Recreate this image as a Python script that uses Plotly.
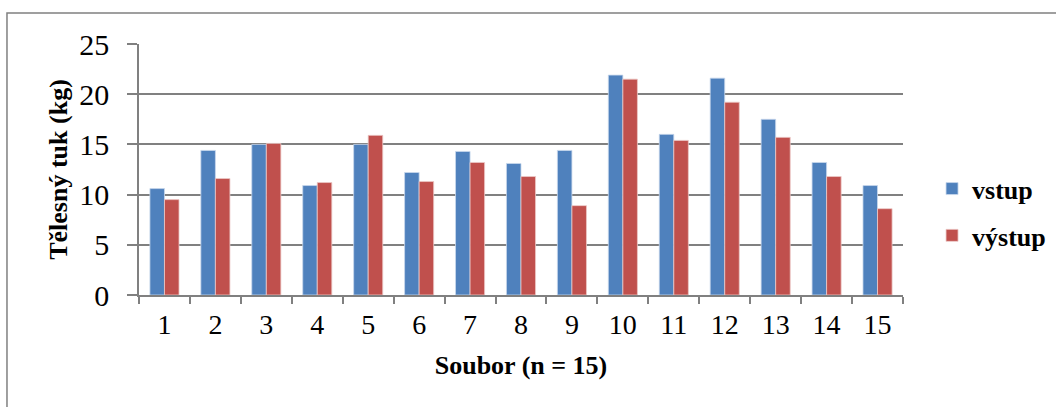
import plotly.graph_objects as go

# Body fat (kg) at entry and exit for each of 15 subjects
soubor = [str(i) for i in range(1, 16)]
vstup = [10.6, 14.4, 15.0, 10.9, 15.0, 12.2, 14.3, 13.1, 14.4, 21.9, 16.0, 21.6, 17.5, 13.2, 10.9]
vystup = [9.5, 11.6, 15.1, 11.2, 15.9, 11.3, 13.2, 11.8, 8.9, 21.5, 15.4, 19.2, 15.7, 11.8, 8.6]
y_ticks = [0, 5, 10, 15, 20, 25]

SERIF = "Times New Roman, Liberation Serif, serif"
GRID = "#808080"

fig = go.Figure()
fig.add_trace(go.Bar(
    name="vstup", x=soubor, y=vstup, legendgroup="a",
    marker=dict(color="#4F81BD", line=dict(color="#c9d8ec", width=0.8)),
))
fig.add_trace(go.Bar(
    name="výstup", x=soubor, y=vystup, legendgroup="b",
    marker=dict(color="#C0504D", line=dict(color="#ecc9c8", width=0.8)),
))

fig.update_layout(
    width=1056, height=407,
    margin=dict(l=139, r=153, t=44, b=112, autoexpand=False),
    paper_bgcolor="white", plot_bgcolor="white",
    barmode="group", bargap=0.4286, bargroupgap=0,
    font=dict(family=SERIF, color="black"),
    showlegend=True,
    legend=dict(
        x=1.038, xanchor="left", y=0.33, yanchor="middle",
        font=dict(family=SERIF, size=26, color="black", weight="bold"),
        tracegroupgap=10, bgcolor="rgba(0,0,0,0)",
    ),
    xaxis=dict(
        type="category",
        tickson="boundaries", ticks="outside", ticklen=7, tickwidth=1.5, tickcolor=GRID,
        showline=True, linecolor=GRID, linewidth=1.5,
        showgrid=False,
        tickfont=dict(family=SERIF, size=28, color="black"),
        ticklabelstandoff=4,
        title=dict(text="Soubor (n = 15)", standoff=16,
                   font=dict(family=SERIF, size=26, color="black", weight="bold")),
    ),
    yaxis=dict(
        range=[0, 25], tickvals=y_ticks,
        ticks="outside", ticklen=10, tickwidth=1.5, tickcolor=GRID,
        showline=True, linecolor=GRID, linewidth=1.5,
        showgrid=True, gridcolor=GRID, gridwidth=1.5,
        zeroline=False,
        tickfont=dict(family=SERIF, size=30, color="black"),
        ticklabelstandoff=12,
        title=dict(text="Tělesný tuk (kg)", standoff=4,
                   font=dict(family=SERIF, size=26, color="black", weight="bold")),
    ),
    shapes=[dict(
        type="rect", xref="paper", yref="paper",
        x0=-0.1728, x1=2.0, y0=-1.0, y1=1.1235,
        line=dict(color=GRID, width=1.5), fillcolor="rgba(0,0,0,0)", layer="below",
    )],
)

fig.write_html("out.html")
